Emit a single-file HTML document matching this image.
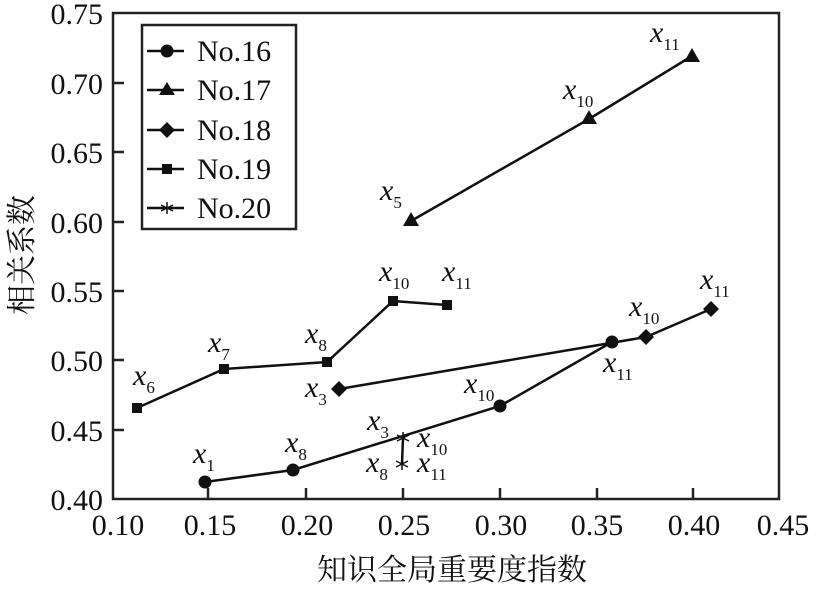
<!DOCTYPE html>
<html><head><meta charset="utf-8"><style>body{margin:0;background:#fff}svg text{font-family:"Liberation Serif","DejaVu Serif","Times New Roman",serif}svg text.cjk{font-family:"Liberation Serif","Noto Serif CJK SC","Noto Sans CJK SC",serif}</style></head><body>
<svg width="817" height="588" xmlns="http://www.w3.org/2000/svg" fill="#111">
<rect x="113" y="13" width="666" height="486" fill="none" stroke="#222" stroke-width="2.5"/>
<g stroke="#222" stroke-width="2.5">
<line x1="208" y1="499" x2="208" y2="488"/><line x1="306" y1="499" x2="306" y2="488"/><line x1="403" y1="499" x2="403" y2="488"/><line x1="500" y1="499" x2="500" y2="488"/><line x1="597" y1="499" x2="597" y2="488"/><line x1="693" y1="499" x2="693" y2="488"/>
<line x1="113" y1="83" x2="124" y2="83"/><line x1="113" y1="152" x2="124" y2="152"/><line x1="113" y1="222" x2="124" y2="222"/><line x1="113" y1="291" x2="124" y2="291"/><line x1="113" y1="360" x2="124" y2="360"/><line x1="113" y1="430" x2="124" y2="430"/>
</g>
<g font-size="30" text-anchor="end">
<text x="103" y="24">0.75</text><text x="103" y="94">0.70</text><text x="103" y="163">0.65</text><text x="103" y="233">0.60</text><text x="103" y="302">0.55</text><text x="103" y="371">0.50</text><text x="103" y="441">0.45</text><text x="103" y="510">0.40</text>
</g>
<g font-size="30" text-anchor="middle">
<text x="118" y="535">0.10</text><text x="210" y="535">0.15</text><text x="307" y="535">0.20</text><text x="404" y="535">0.25</text><text x="501" y="535">0.30</text><text x="597" y="535">0.35</text><text x="694" y="535">0.40</text><text x="783" y="535">0.45</text>
<text class="cjk" x="452" y="580">知识全局重要度指数</text>
</g>
<text class="cjk" font-size="30" text-anchor="middle" transform="translate(32,255) rotate(-90)">相关系数</text>
<g fill="none" stroke="#111" stroke-width="2.5">
<polyline points="205,482 293,470 500,406 612,342"/>
<polyline points="411,221 589,119 692,56"/>
<polyline points="339,389 646,337 711,309"/>
<polyline points="137,408 224,369 327,362 393,301 447,305"/>
<polyline points="403,438 402,464"/>
</g>
<g>
<circle cx="205" cy="482" r="6.5"/><circle cx="293" cy="470" r="6.5"/><circle cx="500" cy="406" r="6.5"/><circle cx="612" cy="342" r="6.5"/>
<polygon points="411,212 403,226 419,226"/><polygon points="589,110 581,124 597,124"/><polygon points="692,48 684,62 700,62"/>
<polygon points="339,381 347,389 339,397 331,389"/><polygon points="646,329 654,337 646,345 638,337"/><polygon points="711,301 719,309 711,317 703,309"/>
<rect x="132" y="403" width="10" height="10"/><rect x="219" y="364" width="10" height="10"/><rect x="322" y="357" width="10" height="10"/><rect x="388" y="296" width="10" height="10"/><rect x="442" y="300" width="10" height="10"/>
</g>
<g stroke="#111" stroke-width="1.5">
<path d="M403,432v12M397,435l12,6M397,441l12,-6"/>
<path d="M402,458v12M396,461l12,6M396,467l12,-6"/>
</g>
<g font-size="30" font-style="italic">
<text x="193" y="463">x<tspan font-size="17" font-style="normal" dy="8">1</tspan></text>
<text x="285" y="452">x<tspan font-size="17" font-style="normal" dy="8">8</tspan></text>
<text x="464" y="393">x<tspan font-size="17" font-style="normal" dy="8">10</tspan></text>
<text x="603" y="372">x<tspan font-size="17" font-style="normal" dy="8">11</tspan></text>
<text x="380" y="200">x<tspan font-size="17" font-style="normal" dy="8">5</tspan></text>
<text x="563" y="99">x<tspan font-size="17" font-style="normal" dy="8">10</tspan></text>
<text x="650" y="42">x<tspan font-size="17" font-style="normal" dy="8">11</tspan></text>
<text x="305" y="397">x<tspan font-size="17" font-style="normal" dy="8">3</tspan></text>
<text x="629" y="316">x<tspan font-size="17" font-style="normal" dy="8">10</tspan></text>
<text x="700" y="289">x<tspan font-size="17" font-style="normal" dy="8">11</tspan></text>
<text x="133" y="385">x<tspan font-size="17" font-style="normal" dy="8">6</tspan></text>
<text x="208" y="352">x<tspan font-size="17" font-style="normal" dy="8">7</tspan></text>
<text x="305" y="343">x<tspan font-size="17" font-style="normal" dy="8">8</tspan></text>
<text x="379" y="281">x<tspan font-size="17" font-style="normal" dy="8">10</tspan></text>
<text x="442" y="281">x<tspan font-size="17" font-style="normal" dy="8">11</tspan></text>
<text x="367" y="430">x<tspan font-size="17" font-style="normal" dy="8">3</tspan></text>
<text x="417" y="447">x<tspan font-size="17" font-style="normal" dy="8">10</tspan></text>
<text x="366" y="472">x<tspan font-size="17" font-style="normal" dy="8">8</tspan></text>
<text x="417" y="472">x<tspan font-size="17" font-style="normal" dy="8">11</tspan></text>
</g>
<rect x="142" y="25" width="154" height="204" fill="#fff" stroke="#222" stroke-width="2.5"/>
<g stroke="#111" stroke-width="2.5">
<line x1="147" y1="51" x2="184" y2="51"/><line x1="147" y1="90" x2="184" y2="90"/><line x1="147" y1="130" x2="184" y2="130"/><line x1="147" y1="169" x2="184" y2="169"/><line x1="147" y1="208" x2="184" y2="208"/>
</g>
<g stroke="#111" stroke-width="1.5"><path d="M167,202v12M161,205l12,6M161,211l12,-6"/></g>
<circle cx="167" cy="51" r="6.5"/>
<polygon points="167,82 159,95 175,95"/>
<polygon points="167,122 175,130 167,138 159,130"/>
<rect x="162" y="164" width="10" height="10"/>
<g font-size="30">
<text x="197" y="61">No.16</text><text x="197" y="100">No.17</text><text x="197" y="140">No.18</text><text x="197" y="179">No.19</text><text x="197" y="218">No.20</text>
</g>
</svg>
</body></html>
